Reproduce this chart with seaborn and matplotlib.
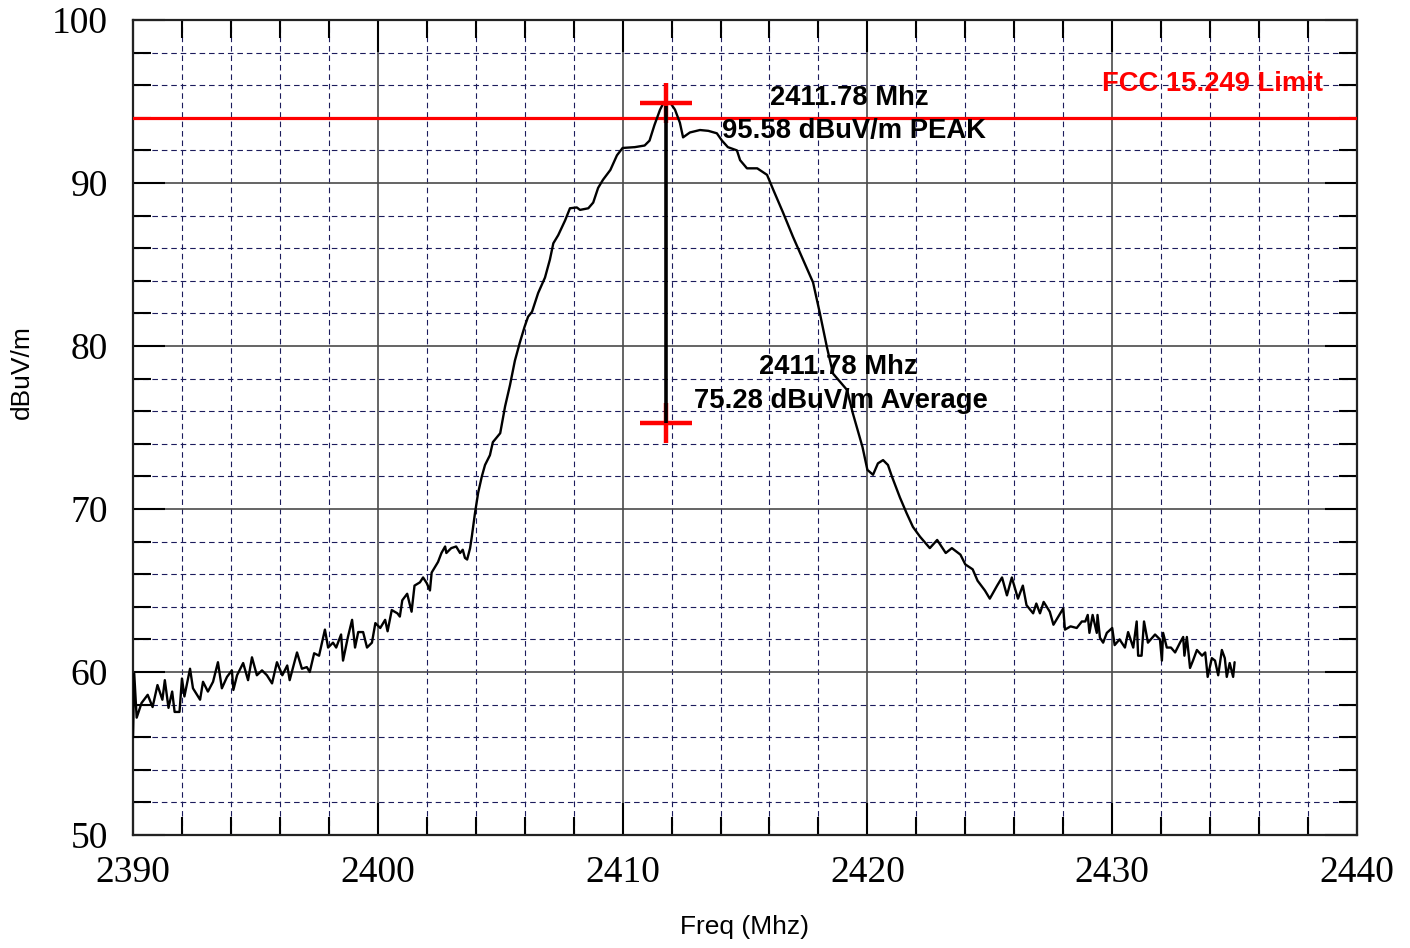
import matplotlib
matplotlib.use("Agg")
import matplotlib.pyplot as plt
import seaborn as sns
import pandas as pd
from matplotlib.ticker import MultipleLocator

# ---------------- data ----------------
freq_mhz = [
    2390.00, 2390.05, 2390.15, 2390.35, 2390.60, 2390.80, 2391.00, 2391.20, 2391.30, 2391.45,
    2391.60, 2391.70, 2391.90, 2392.00, 2392.10, 2392.33, 2392.45, 2392.74, 2392.86, 2393.06,
    2393.27, 2393.47, 2393.63, 2393.84, 2394.04, 2394.10, 2394.25, 2394.50, 2394.70, 2394.86,
    2395.06, 2395.27, 2395.47, 2395.68, 2395.88, 2396.10, 2396.30, 2396.40, 2396.70, 2396.90,
    2397.10, 2397.22, 2397.40, 2397.60, 2397.84, 2397.97, 2398.17, 2398.30, 2398.50, 2398.58,
    2398.78, 2398.95, 2399.07, 2399.20, 2399.40, 2399.56, 2399.76, 2399.90, 2400.10, 2400.30,
    2400.40, 2400.57, 2400.80, 2400.90, 2401.00, 2401.20, 2401.38, 2401.50, 2401.72, 2401.85,
    2402.00, 2402.13, 2402.20, 2402.46, 2402.60, 2402.75, 2402.80, 2403.00, 2403.20, 2403.36,
    2403.47, 2403.56, 2403.65, 2403.77, 2403.84, 2403.97, 2404.10, 2404.25, 2404.38, 2404.58,
    2404.70, 2405.00, 2405.20, 2405.40, 2405.60, 2405.80, 2406.00, 2406.14, 2406.30, 2406.55,
    2406.83, 2407.03, 2407.17, 2407.37, 2407.65, 2407.85, 2408.13, 2408.26, 2408.60, 2408.80,
    2409.00, 2409.20, 2409.50, 2409.77, 2410.00, 2410.50, 2410.90, 2411.10, 2411.30, 2411.53,
    2411.65, 2411.80, 2411.98, 2412.14, 2412.34, 2412.47, 2412.75, 2413.16, 2413.50, 2413.85,
    2414.06, 2414.30, 2414.67, 2414.80, 2415.08, 2415.50, 2415.90, 2416.15, 2416.55, 2416.96,
    2417.37, 2417.78, 2418.06, 2418.35, 2418.60, 2419.17, 2419.40, 2419.80, 2420.00, 2420.23,
    2420.43, 2420.64, 2420.84, 2421.00, 2421.33, 2421.60, 2421.86, 2422.15, 2422.55, 2422.85,
    2423.20, 2423.45, 2423.80, 2424.00, 2424.30, 2424.50, 2424.80, 2425.00, 2425.30, 2425.50,
    2425.70, 2425.90, 2426.15, 2426.35, 2426.50, 2426.77, 2426.90, 2427.05, 2427.20, 2427.45,
    2427.60, 2427.80, 2428.00, 2428.07, 2428.30, 2428.55, 2428.76, 2428.90, 2429.00, 2429.07,
    2429.20, 2429.37, 2429.40, 2429.50, 2429.63, 2429.78, 2430.00, 2430.10, 2430.30, 2430.52,
    2430.65, 2430.86, 2431.00, 2431.06, 2431.20, 2431.30, 2431.46, 2431.75, 2431.95, 2432.03,
    2432.08, 2432.23, 2432.40, 2432.57, 2432.77, 2432.90, 2432.95, 2433.05, 2433.18, 2433.30,
    2433.46, 2433.67, 2433.80, 2433.90, 2434.07, 2434.20, 2434.33, 2434.48, 2434.60, 2434.68,
    2434.80, 2434.94, 2435.00,
]
level_dbuv = [
    56.0, 59.9, 57.2, 58.1, 58.6, 57.85, 59.2, 58.3, 59.5, 57.8,
    58.8, 57.55, 57.55, 59.6, 58.5, 60.2, 59.0, 58.3, 59.4, 58.8,
    59.4, 60.6, 59.0, 59.7, 60.1, 58.9, 59.8, 60.55, 59.5, 60.9,
    59.8, 60.1, 59.8, 59.3, 60.6, 59.8, 60.4, 59.5, 61.2, 60.2,
    60.3, 60.0, 61.15, 61.0, 62.6, 61.5, 61.8, 61.5, 62.3, 60.7,
    62.15, 63.2, 61.5, 62.45, 62.45, 61.5, 61.8, 63.0, 62.7, 63.2,
    62.5, 63.8, 63.6, 63.4, 64.4, 64.8, 63.7, 65.3, 65.5, 65.8,
    65.45, 65.0, 66.1, 66.75, 67.3, 67.7, 67.3, 67.6, 67.7, 67.3,
    67.5, 67.0, 66.9, 67.6, 68.3, 69.75, 71.0, 72.0, 72.7, 73.3,
    74.1, 74.65, 76.3, 77.6, 79.1, 80.2, 81.2, 81.8, 82.1, 83.25,
    84.2, 85.3, 86.3, 86.8, 87.7, 88.45, 88.5, 88.35, 88.45, 88.8,
    89.7, 90.2, 90.8, 91.7, 92.15, 92.2, 92.3, 92.6, 93.55, 94.5,
    94.85, 94.9, 94.85, 94.5, 93.7, 92.8, 93.1, 93.25, 93.2, 93.05,
    92.6, 92.2, 92.0, 91.4, 90.9, 90.9, 90.5, 89.6, 88.2, 86.7,
    85.3, 83.9, 82.0, 79.9, 78.3, 77.3, 75.9, 73.8, 72.4, 72.1,
    72.8, 73.0, 72.7, 72.0, 70.7, 69.75, 68.9, 68.3, 67.6, 68.1,
    67.3, 67.6, 67.2, 66.6, 66.3, 65.6, 65.0, 64.5, 65.3, 65.8,
    64.7, 65.8, 64.5, 65.3, 64.1, 63.6, 64.2, 63.6, 64.3, 63.7,
    62.9, 63.4, 63.9, 62.6, 62.8, 62.7, 63.1, 63.1, 63.5, 62.4,
    63.5, 62.4, 63.5, 62.1, 61.8, 62.4, 62.7, 61.65, 62.0, 61.5,
    62.45, 61.5, 63.1, 61.0, 61.0, 63.1, 61.8, 62.3, 62.0, 60.7,
    62.4, 61.5, 61.5, 61.2, 61.8, 62.15, 61.0, 62.15, 60.25, 60.7,
    61.35, 61.0, 61.2, 59.7, 60.85, 60.7, 59.8, 61.35, 60.85, 59.7,
    60.55, 59.7, 60.6,
]

limit_level = 94.0
limit_label = "FCC 15.249 Limit"
marker_freq = 2411.78
peak_marker_level = 94.9
avg_marker_level = 75.3
peak_text = ["2411.78 Mhz", "95.58 dBuV/m PEAK"]
avg_text = ["2411.78 Mhz", "75.28 dBuV/m Average"]
x_ticks = [2390, 2400, 2410, 2420, 2430, 2440]
y_ticks = [50, 60, 70, 80, 90, 100]

df = pd.DataFrame({"Freq (Mhz)": freq_mhz, "dBuV/m": level_dbuv})

# ---------------- figure ----------------
sns.set_theme(style="white")
plt.rcParams["font.family"] = ["Liberation Sans", "DejaVu Sans"]

fig = plt.figure(figsize=(14.10, 9.48), dpi=100)
ax = fig.add_axes([133 / 1410, 1 - 835 / 948, (1357 - 133) / 1410, (835 - 20) / 948])

ax.set_xlim(2390, 2440)
ax.set_ylim(50, 100)

# grid
ax.xaxis.set_minor_locator(MultipleLocator(2))
ax.yaxis.set_minor_locator(MultipleLocator(2))
ax.set_xticks(x_ticks)
ax.set_yticks(y_ticks)
ax.grid(which="major", color="#4a4a4a", lw=1.2, ls="-", zorder=0)
ax.grid(which="minor", color="#1c1c5c", lw=0.8, ls=(0, (5, 3.5)), zorder=0)
ax.set_axisbelow(True)

# limit line
ax.axhline(limit_level, color="#ff0000", lw=2.3, zorder=3)

# trace
sns.lineplot(data=df, x="Freq (Mhz)", y="dBuV/m", sort=False, estimator=None,
             color="black", lw=1.7, ax=ax, zorder=4)

# markers
for lvl in (peak_marker_level, avg_marker_level):
    ax.plot([marker_freq], [lvl], marker="_", ms=37, mew=3.2, color="#ff0000", zorder=5)
    ax.plot([marker_freq], [lvl], marker="|", ms=29, mew=3.2, color="#ff0000", zorder=5)
ax.plot([marker_freq, marker_freq], [peak_marker_level - 0.15, avg_marker_level],
        color="black", lw=2.6, zorder=6, solid_capstyle="butt")

# annotations
fs_ann = 19.7
tkw = dict(fontsize=fs_ann, fontweight="bold", color="black", ha="center", va="center", zorder=7)
ax.text(2419.25, 95.2, peak_text[0], **tkw)
ax.text(2419.45, 93.2, peak_text[1], **tkw)
ax.text(2418.8, 78.7, avg_text[0], **tkw)
ax.text(2418.9, 76.6, avg_text[1], **tkw)
ax.text(2434.08, 96.1, limit_label, fontsize=fs_ann, fontweight="bold", color="#ff0000",
        ha="center", va="center", zorder=7)

# ticks
ax.tick_params(which="major", direction="in", length=23, width=1.5, color="black",
               top=True, right=True, bottom=True, left=True)
ax.tick_params(which="minor", direction="in", length=13, width=1.5, color="black",
               top=True, right=True, bottom=True, left=True)
ax.tick_params(axis="x", which="major", pad=15)
ax.tick_params(axis="y", which="major", pad=18)
for lab in ax.get_xticklabels() + ax.get_yticklabels():
    lab.set_fontfamily(["Liberation Serif", "DejaVu Serif"])
    lab.set_fontsize(27)
    lab.set_color("black")

for sp in ax.spines.values():
    sp.set_color("#222222")
    sp.set_linewidth(1.6)
    sp.set_visible(True)

ax.set_xlabel("Freq (Mhz)", fontsize=19, color="black")
ax.set_ylabel("dBuV/m", fontsize=19, color="black")
ax.xaxis.label.set_va("center")
ax.yaxis.label.set_va("center")
ax.xaxis.set_label_coords(0.5, (835 - 927) / 815)
ax.yaxis.set_label_coords((22 - 133) / 1224, (835 - 372) / 815)

fig.savefig("out.png", dpi=100)
